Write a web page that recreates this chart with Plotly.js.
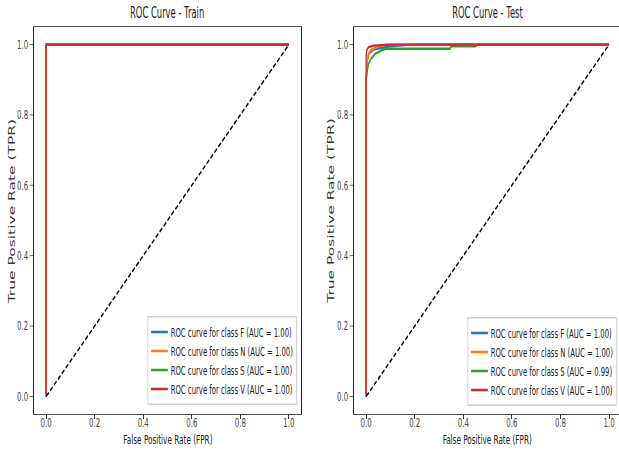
<!DOCTYPE html>
<html>
<head>
<meta charset="utf-8">
<script src="https://cdn.plot.ly/plotly-3.0.1.min.js"></script>
<style>
html,body{margin:0;padding:0;background:#fff;overflow:hidden;width:619px;height:459px;}
#wrap{width:619px;height:459px;overflow:hidden;position:relative;}
#chart{width:1105px;height:459px;transform:scaleX(0.5602);transform-origin:0 0;position:absolute;left:0;top:0;}
</style>
</head>
<body>
<div id="wrap"><div id="chart"></div></div>
<script>
// ---- data ----
const classNames = ["F", "N", "S", "V"];
const trainAUC = ["1.00", "1.00", "1.00", "1.00"];
const testAUC = ["1.00", "1.00", "0.99", "1.00"];
const seriesColors = ["#1f77b4", "#ff7f0e", "#2ca02c", "#d62728"];

// Train ROC curves (FPR, TPR)
const trainFPR_F = [0, 0, 1];
const trainTPR_F = [0, 1, 1];
const trainFPR_N = [0, 0, 1];
const trainTPR_N = [0, 1, 1];
const trainFPR_S = [0, 0, 1];
const trainTPR_S = [0, 1, 1];
const trainFPR_V = [0, 0, 1];
const trainTPR_V = [0, 1, 1];

// Test ROC curves (FPR, TPR)
const testFPR_F = [0, 0, 0.005, 0.012, 0.03, 0.06, 0.1, 0.18, 1];
const testTPR_F = [0, 0.90, 0.955, 0.975, 0.986, 0.990, 0.995, 1.0, 1];
const testFPR_N = [0, 0, 0.004, 0.01, 0.02, 0.05, 0.08, 1];
const testTPR_N = [0, 0.90, 0.95, 0.975, 0.985, 0.995, 1.0, 1];
const testFPR_S = [0, 0, 0.005, 0.01, 0.02, 0.037, 0.06, 0.08, 0.345, 0.35, 0.45, 0.46, 1];
const testTPR_S = [0, 0.90, 0.926, 0.945, 0.960, 0.974, 0.982, 0.988, 0.988, 0.995, 0.995, 1.0, 1];
const testFPR_V = [0, 0, 0.003, 0.01, 0.03, 0.1, 1];
const testTPR_V = [0, 0.97, 0.985, 0.993, 0.997, 1.0, 1];

const diagX = [0, 1];
const diagY = [0, 1];

const tickVals = [0, 0.2, 0.4, 0.6, 0.8, 1.0];
const tickText = ["0.0", "0.2", "0.4", "0.6", "0.8", "1.0"];

// ---- traces ----
const FONT = "DejaVu Sans, sans-serif";
const trainX = [trainFPR_F, trainFPR_N, trainFPR_S, trainFPR_V];
const trainY = [trainTPR_F, trainTPR_N, trainTPR_S, trainTPR_V];
const testX = [testFPR_F, testFPR_N, testFPR_S, testFPR_V];
const testY = [testTPR_F, testTPR_N, testTPR_S, testTPR_V];

const traces = [];
classNames.forEach((c, i) => {
  traces.push({
    x: trainX[i], y: trainY[i], type: "scatter", mode: "lines",
    line: {color: seriesColors[i], width: 2.4},
    name: "ROC curve for class " + c + " (AUC = " + trainAUC[i] + ")",
    xaxis: "x", yaxis: "y", legend: "legend"
  });
});
traces.push({x: diagX, y: diagY, type: "scatter", mode: "lines",
  line: {color: "#000", width: 2, dash: "6px,3px"}, showlegend: false, xaxis: "x", yaxis: "y"});
classNames.forEach((c, i) => {
  traces.push({
    x: testX[i], y: testY[i], type: "scatter", mode: "lines",
    line: {color: seriesColors[i], width: 2.4},
    name: "ROC curve for class " + c + " (AUC = " + testAUC[i] + ")",
    xaxis: "x2", yaxis: "y2", legend: "legend2"
  });
});
traces.push({x: diagX, y: diagY, type: "scatter", mode: "lines",
  line: {color: "#000", width: 2, dash: "6px,3px"}, showlegend: false, xaxis: "x2", yaxis: "y2"});

const S = 0.5602;
const W = 1105, H = 459;
const px = v => v / S / W;        // reference x pixel -> paper fraction
const py = v => 1 - v / H;        // reference y pixel -> paper fraction
const yDom = [py(414), py(27)];

function xAxis(domain, range, anchor) {
  return {
    domain: domain, range: range, anchor: anchor,
    showgrid: false, zeroline: false,
    showline: true, mirror: true, linecolor: "#222", linewidth: 1,
    ticks: "outside", ticklen: 4, tickcolor: "#333", tickwidth: 1.8,
    ticklabelstandoff: -7,
    tickvals: tickVals, ticktext: tickText,
    tickfont: {family: FONT, size: 12.5, color: "#444"}
  };
}
function yAxis(range, anchor, mirror) {
  return {
    domain: yDom, range: range, anchor: anchor,
    showgrid: false, zeroline: false,
    showline: true, mirror: mirror, linecolor: "#222", linewidth: 1.8,
    ticks: "outside", ticklen: 6, tickcolor: "#333", tickwidth: 1,
    tickvals: tickVals, ticktext: tickText,
    tickfont: {family: FONT, size: 12.5, color: "#444"}
  };
}

const legendBase = {
  bgcolor: "rgba(255,255,255,0.9)", bordercolor: "#cfcfcf", borderwidth: 1.5,
  font: {family: FONT, size: 12.3, color: "#222"},
  xanchor: "right", yanchor: "bottom", itemwidth: 30,
  tracegroupgap: 0
};

const layout = {
  width: W, height: H,
  margin: {l: 0, r: 0, t: 0, b: 0},
  paper_bgcolor: "#fff", plot_bgcolor: "#fff",
  showlegend: true,
  xaxis: xAxis([px(34), px(301)], [-0.05, 1.05], "y"),
  yaxis: yAxis([-0.05, 1.05], "x", true),
  xaxis2: xAxis([px(354), 1], [-0.05, (619 - 366) / 243], "y2"),
  yaxis2: yAxis([-0.05, 1.05], "x2", false),
  legend: Object.assign({}, legendBase, {x: px(297), y: py(405)}),
  legend2: Object.assign({}, legendBase, {x: px(617), y: py(406)}),
  annotations: [
    {text: "ROC Curve - Train", x: px(167), y: py(13), xref: "paper", yref: "paper",
     xanchor: "center", yanchor: "middle",
     showarrow: false, font: {family: FONT, size: 15, color: "#222"}},
    {text: "ROC Curve - Test", x: px(487.5), y: py(13), xref: "paper", yref: "paper",
     xanchor: "center", yanchor: "middle",
     showarrow: false, font: {family: FONT, size: 15, color: "#222"}},
    {text: "False Positive Rate (FPR)", x: px(168), y: py(439), xref: "paper", yref: "paper",
     xanchor: "center", yanchor: "middle",
     showarrow: false, font: {family: FONT, size: 13, color: "#222"}},
    {text: "False Positive Rate (FPR)", x: px(487), y: py(439), xref: "paper", yref: "paper",
     xanchor: "center", yanchor: "middle",
     showarrow: false, font: {family: FONT, size: 13, color: "#222"}},
    {text: "True Positive Rate (TPR)", x: px(12), y: py(211), xref: "paper", yref: "paper",
     xanchor: "center", yanchor: "middle",
     showarrow: false, textangle: -90, font: {family: FONT, size: 15.5, color: "#333"}},
    {text: "True Positive Rate (TPR)", x: px(331), y: py(211), xref: "paper", yref: "paper",
     xanchor: "center", yanchor: "middle",
     showarrow: false, textangle: -90, font: {family: FONT, size: 15.5, color: "#333"}}
  ]
};

Plotly.newPlot("chart", traces, layout, {displayModeBar: false, staticPlot: true});
</script>
</body>
</html>
